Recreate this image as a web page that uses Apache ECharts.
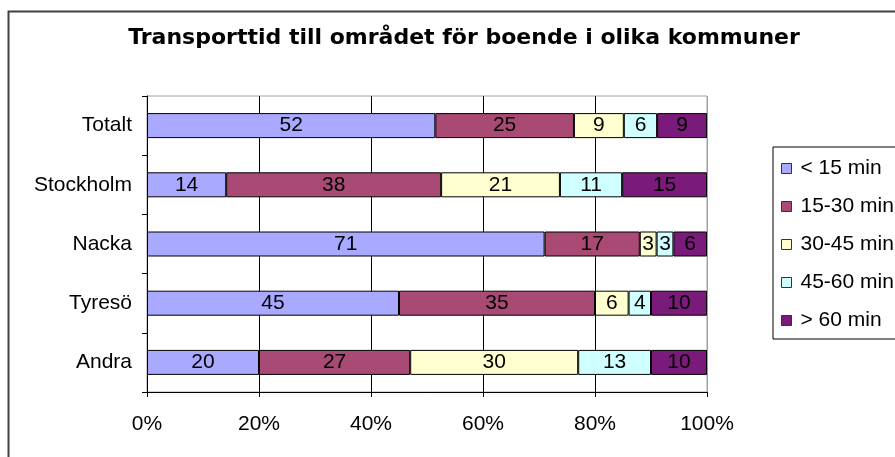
<!DOCTYPE html>
<html lang="sv">
<head>
    <meta charset="UTF-8">
    <title>Transporttid</title>
    <script src="https://cdn.jsdelivr.net/npm/echarts@6/dist/echarts.min.js"></script>
    <style>
        html, body { margin: 0; padding: 0; background: #fff; }
        #chart { width: 895px; height: 457px; }
    </style>
</head>
<body>
<div id="chart"></div>
<script>
    // data (answers per kommun, in %)
    var kommuner = ['Totalt', 'Stockholm', 'Nacka', 'Tyresö', 'Andra'];
    var klasser = ['< 15 min', '15-30 min', '30-45 min', '45-60 min', '> 60 min'];
    var under15 = [52, 14, 71, 45, 20];
    var min15_30 = [25, 38, 17, 35, 27];
    var min30_45 = [9, 21, 3, 6, 30];
    var min45_60 = [6, 11, 3, 4, 13];
    var over60 = [9, 15, 6, 10, 10];
    var xTicks = [0, 20, 40, 60, 80, 100];

    var colors = ['#a9a9ff', '#a94a75', '#ffffd0', '#d0ffff', '#7a1a7a'];
    var rader = [under15, min15_30, min30_45, min45_60, over60];

    // 100% stacked: each bar scaled to its row total
    var summa = kommuner.map(function (k, i) {
        var s = 0;
        rader.forEach(function (r) { s += r[i]; });
        return s;
    });

    var font = '"Liberation Sans", Arial, sans-serif';

    var series = rader.map(function (r, n) {
        return {
            name: klasser[n],
            type: 'bar',
            stack: 'tot',
            barWidth: 25,
            itemStyle: { color: colors[n], borderColor: '#000', borderWidth: 1 },
            label: {
                show: true,
                position: 'inside',
                color: '#000',
                fontFamily: font,
                fontSize: 21,
                formatter: function (p) { return r[p.dataIndex]; }
            },
            data: r.map(function (v, i) { return v / summa[i] * 100; })
        };
    });

    var myChart = echarts.init(document.getElementById('chart'));
    var option = {
        backgroundColor: '#fff',
        animation: false,
        title: {
            text: 'Transporttid till området för boende i olika kommuner',
            left: 464,
            textAlign: 'center',
            top: 27,
            padding: 0,
            textStyle: { fontFamily: '"DejaVu Sans", sans-serif', fontSize: 22, fontWeight: 'bold', color: '#000' }
        },
        graphic: [{
            type: 'rect',
            shape: { x: 8.5, y: 11.5, width: 1000, height: 1000 },
            style: { fill: 'none', stroke: '#404040', lineWidth: 2 },
            z: -1
        }],
        legend: {
            orient: 'vertical',
            left: 773,
            top: 147,
            padding: [11, 60, 8, 8],
            borderColor: '#000',
            borderWidth: 1,
            itemWidth: 10,
            itemHeight: 10,
            itemGap: 17,
            icon: 'rect',
            itemStyle: { borderColor: '#333', borderWidth: 1 },
            textStyle: { fontFamily: font, fontSize: 21, color: '#000', padding: [0, 0, 0, 4] },
            data: klasser
        },
        grid: {
            left: 147, top: 96, right: 188, bottom: 65,
            show: true, borderColor: '#a0a0a0', borderWidth: 1
        },
        xAxis: {
            type: 'value',
            min: xTicks[0],
            max: xTicks[xTicks.length - 1],
            interval: 20,
            axisLine: { show: true, lineStyle: { color: '#000' } },
            axisTick: { show: true, length: 5, lineStyle: { color: '#000' } },
            splitLine: { lineStyle: { color: ['#000', '#000', '#000', '#000', '#000', '#a0a0a0'] } },
            axisLabel: {
                formatter: '{value}%',
                margin: 22,
                fontFamily: font,
                fontSize: 21,
                color: '#000'
            }
        },
        yAxis: {
            type: 'category',
            inverse: true,
            data: kommuner,
            axisLine: { show: true, lineStyle: { color: '#000' } },
            axisTick: { show: true, length: 5, lineStyle: { color: '#000' } },
            axisLabel: { margin: 15, fontFamily: font, fontSize: 21, color: '#000' }
        },
        series: series
    };
    myChart.setOption(option);
</script>
</body>
</html>
